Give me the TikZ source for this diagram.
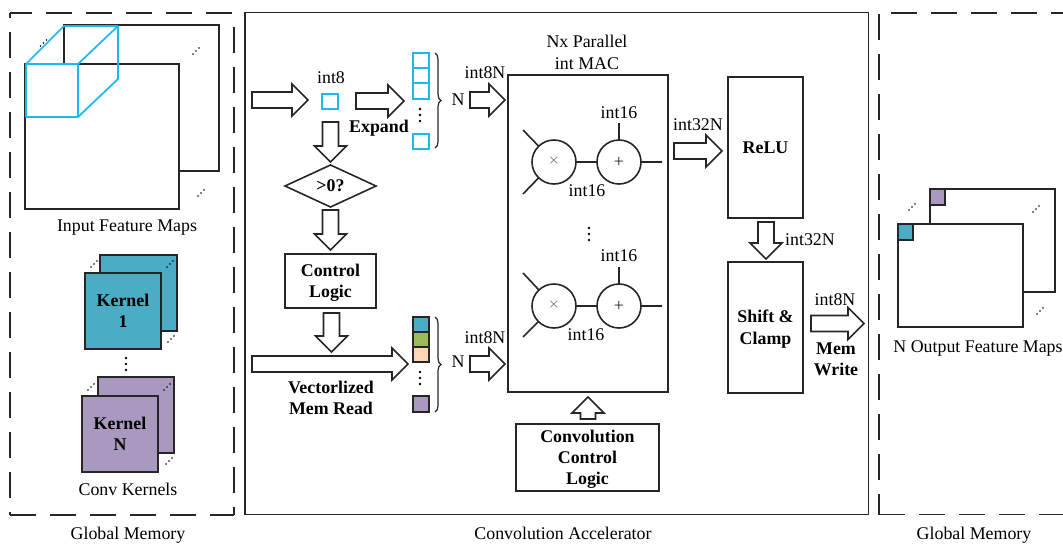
\documentclass[tikz,border=0pt]{standalone}
\usepackage{fontspec}
\setmainfont{Liberation Serif}
\usetikzlibrary{shapes.geometric,decorations.pathreplacing}
\definecolor{ln}{HTML}{262626}
\definecolor{cyanl}{HTML}{1CB8F0}
\definecolor{teal}{HTML}{4BACC6}
\definecolor{lilac}{HTML}{AA99BF}
\definecolor{leaf}{HTML}{9BBB59}
\definecolor{peach}{HTML}{FBD5B5}
\tikzset{
  x=0.75pt,y=-0.75pt,
  every node/.style={font=\fontsize{13.4}{16}\selectfont,inner sep=0pt,outer sep=0pt},
  lnw/.style={line width=1.2pt,draw=ln},
  rect/.style={rectangle,lnw,align=center,font=\fontsize{13.4}{16}\selectfont\bfseries},
  cyancell/.style={rectangle,draw=cyanl,line width=1.3pt,fill=white},
  cellbox/.style={rectangle,lnw},
  blockarrow/.style={lnw,fill=white,line join=miter},
  opcircle/.style={circle,lnw,minimum size=33pt},
  wire/.style={lnw},
  cyanline/.style={draw=cyanl,line width=1.3pt},
  dashbox/.style={draw=ln,line width=1.2pt,dash pattern=on 19.6pt off 10.4pt},
  bracest/.style={draw=ln,line width=0.9pt,decorate,decoration={brace,amplitude=4.5pt}},
  lbl/.style={},
  blbl/.style={font=\fontsize{13.4}{16}\selectfont\bfseries,align=center},
}
% name, style, x1, y1, x2, y2, text
\newcommand\bx[7]{\node[#2,minimum width={(#5-#3)*0.75pt},minimum height={(#6-#4)*0.75pt}] (#1) at ({(#3+#5)/2},{(#4+#6)/2}) {#7};}
% horizontal block arrow: name, x1, x2, y
\newcommand\ha[4]{\draw[blockarrow] (#2,#4-8) -- (#3-16,#4-8) -- (#3-16,#4-16) -- (#3,#4) coordinate (#1) -- (#3-16,#4+16) -- (#3-16,#4+8) -- (#2,#4+8) -- cycle;}
% downward block arrow: name, x, y1, y2
\newcommand\da[4]{\draw[blockarrow] (#2-8,#3) -- (#2-8,#4-16) -- (#2-16,#4-16) -- (#2,#4) coordinate (#1) -- (#2+16,#4-16) -- (#2+8,#4-16) -- (#2+8,#3) -- cycle;}
% upward block arrow: name, x, y1 (tail), y2 (tip)
\newcommand\ua[4]{\draw[blockarrow] (#2-7.5,#3) -- (#2-7.5,#4+16) -- (#2-16,#4+16) -- (#2,#4) coordinate (#1) -- (#2+16,#4+16) -- (#2+7.5,#4+16) -- (#2+7.5,#3) -- cycle;}
% diagonal and vertical dots
\newcommand\dg[2]{\fill[black] (#1-3,#2+3) circle (0.65pt) (#1,#2) circle (0.65pt) (#1+3,#2-3) circle (0.65pt);}
\newcommand\vd[4]{\fill[black] (#1,#2) circle (0.95pt) (#1,#3) circle (0.95pt) (#1,#4) circle (0.95pt);}
\newcommand\dn{\rule{0pt}{12pt}}
\begin{document}
\begin{tikzpicture}
\useasboundingbox (0,0) rectangle (1063,543);
% dashed and main frames
\draw[dashbox,dash phase=3pt] (10,13) -- (234,13);
\draw[dashbox] (10,515) -- (234,515) ;
\draw[dashbox,dash phase=15.8pt] (10,13) -- (10,515);
\draw[dashbox,dash phase=19.6pt] (234,13) -- (234,515);
\bx{mainframe}{cellbox}{245}{12.5}{868.5}{514.5}{}
\draw[dashbox,dash phase=21pt] (879,13) -- (1063,13);
\draw[dashbox] (879,514.5) -- (1063,514.5);
\draw[dashbox,dash phase=29pt] (879,13) -- (879,514.5);
% input feature maps
\bx{inback}{cellbox}{64}{25}{219}{171}{}
\bx{infront}{cellbox,fill=white}{25}{64}{179}{209}{}
\draw[cyanline,line join=round] (26,64) rectangle (78,117)
  (26,64) -- (64,26) -- (118,26) -- (118,79) -- (78,117)
  (78,64) -- (118,26);
\dg{43.5}{43}\dg{196}{51}\dg{201}{193}
\node[lbl] (inlabel) at (127,228) {Input Feature Maps};
% kernels
\bx{k1back}{cellbox,fill=teal}{100}{255}{177}{331}{}
\bx{k1front}{rect,fill=teal}{85}{273}{161}{349}{Kernel\\1}
\dg{94}{264}\dg{170}{264}\dg{171}{339}
\vd{126}{358}{364}{370}
\bx{knback}{cellbox,fill=lilac}{98}{377}{174}{453}{}
\bx{knfront}{rect,fill=lilac}{82}{396}{158}{472}{Kernel\\N}
\dg{91}{387}\dg{167}{387}\dg{169}{461}
\node[lbl] (klabel) at (128,489) {Conv Kernels};
\node[lbl] (gm1) at (128,535) {Global Memory};
\node[lbl] (calabel) at (563,533) {Convolution Accelerator};
\node[lbl] (gm2) at (974,535) {Global Memory};
% input path
\ha{a1}{252}{308}{100}
\node[lbl] (int8) at (331,78) {int8};
\bx{pix}{cyancell}{322}{94}{338}{109}{}
\ha{a2}{356}{404}{101}
\node[blbl] (expand) at (379,128) {Expand};
\bx{s1}{cyancell}{413}{53}{429}{68}{}
\bx{s2}{cyancell}{413}{68}{429}{83}{}
\bx{s3}{cyancell}{413}{83}{429}{99}{}
\bx{s4}{cyancell}{413}{134}{429}{149}{}
\vd{420}{109}{115}{121}
\draw[bracest] (435,53) -- (435,148);
\node[lbl] (n1) at (458,100) {N};
\node[lbl] (i8n1) at (485,73) {int8N};
\ha{a3}{470}{505}{100}
\da{d1}{330.5}{122}{162}
\node[diamond,lnw,shape aspect=2.17,minimum width=68.25pt,minimum height=31.5pt,font=\fontsize{13.4}{16}\selectfont\bfseries] (cmp) at (330.5,186) {>0?};
\da{d2}{330.5}{210}{250}
\bx{ctrl}{rect}{285}{254}{376}{308}{\dn Control\\Logic}
\da{d3}{331.5}{313}{352}
\ha{a4}{252}{408}{364}
\node[blbl] (vmr) at (331,398) {Vectorlized\\Mem Read};
\bx{c1}{cellbox,fill=teal}{413}{317}{429}{332}{}
\bx{c2}{cellbox,fill=leaf}{413}{332}{429}{347}{}
\bx{c3}{cellbox,fill=peach}{413}{347}{429}{362}{}
\bx{c4}{cellbox,fill=lilac}{413}{396}{429}{412}{}
\vd{420}{372}{378}{384}
\draw[bracest] (435,317) -- (435,412);
\node[lbl] (n2) at (458,362) {N};
\node[lbl] (i8n2) at (485,338) {int8N};
\ha{a5}{470}{505}{364}
% MAC block
\node[lbl,align=center] (mactitle) at (587,52.5) {Nx Parallel\\int MAC};
\bx{mac}{cellbox}{508}{75}{668}{392}{}
\node[opcircle,text=gray] (m1) at (554,162) {×};
\node[opcircle,text=ln] (p1) at (619,162) {+};
\node[opcircle,text=gray] (m2) at (554,306) {×};
\node[opcircle,text=ln] (p2) at (619,306) {+};
\coordinate (m1a) at (523,130); \coordinate (m1b) at (523,194);
\coordinate (m2a) at (523,273); \coordinate (m2b) at (523,337);
\coordinate (p1t) at (619,123); \coordinate (p2t) at (619,267);
\coordinate (p1o) at (662,162); \coordinate (p2o) at (662,306);
\draw[wire] (m1a) -- (m1) (m1b) -- (m1) (m1) -- (p1) (p1t) -- (p1) (p1) -- (p1o);
\draw[wire] (m2a) -- (m2) (m2b) -- (m2) (m2) -- (p2) (p2t) -- (p2) (p2) -- (p2o);
\node[lbl] (t1) at (619,113) {int16};
\node[lbl] (t2) at (587,191) {int16};
\node[lbl] (t3) at (619,256) {int16};
\node[lbl] (t4) at (586,335) {int16};
\vd{589}{228}{234}{240}
% conv control
\bx{cc}{rect}{516}{424}{659}{491}{\dn Convolution\\Control\\Logic}
\ua{upa}{588}{419}{397}
% ReLU etc
\node[lbl] (i32a) at (698,125) {int32N};
\ha{a6}{674}{722}{151}
\bx{relu}{rect}{728}{77}{803}{218}{ReLU}
\da{d4}{766}{222}{259}
\node[lbl] (i32b) at (810,240) {int32N};
\bx{shift}{rect}{728}{262}{803}{393}{\dn Shift \&\\Clamp}
\node[lbl] (i8w) at (835,300) {int8N};
\ha{a7}{811}{864}{323.5}
\node[blbl] (memw) at (836,359) {Mem\\Write};
% output maps
\bx{outback}{cellbox}{930}{189}{1055}{292}{}
\bx{outfront}{cellbox,fill=white}{898}{224}{1023}{327}{}
\bx{oc1}{cellbox,fill=lilac}{930}{189}{945}{205}{}
\bx{oc2}{cellbox,fill=teal}{898}{224}{913}{240}{}
\dg{912}{207}\dg{1036}{209}\dg{1040}{311}
\node[lbl] (outlabel) at (978,348) {N Output Feature Maps};
\end{tikzpicture}
\end{document}
